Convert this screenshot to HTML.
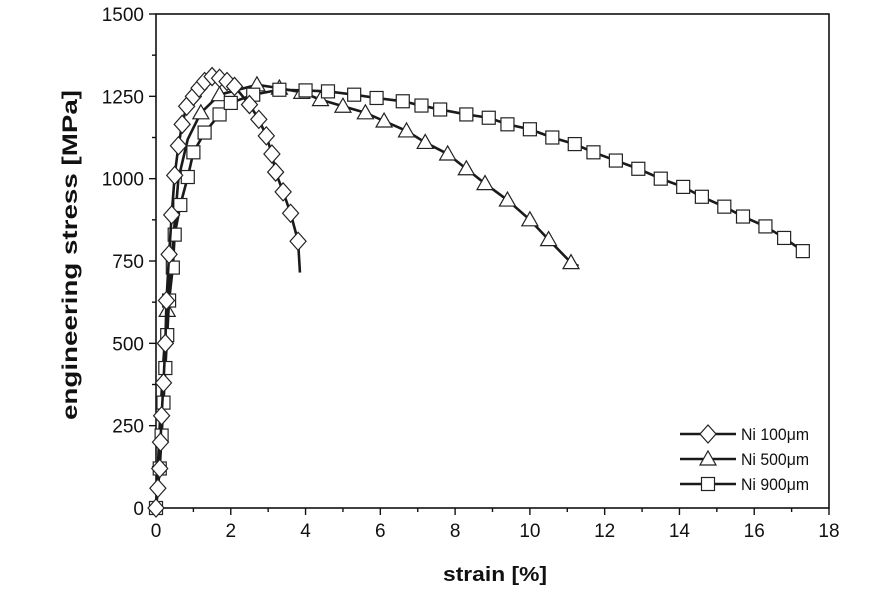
<!DOCTYPE html>
<html><head><meta charset="utf-8"><style>
body{margin:0;background:#fff;}
svg text{font-family:"Liberation Sans",Arial,sans-serif;fill:#111;}
</style></head><body>
<svg id="chart" width="895" height="590" viewBox="0 0 895 590" xmlns="http://www.w3.org/2000/svg">
<rect x="0" y="0" width="895" height="590" fill="#fff"/>
<g id="axes"></g><g id="series"></g><g id="legend"></g>
<text x="495" y="581" text-anchor="middle" font-size="20" font-weight="bold" textLength="104" lengthAdjust="spacingAndGlyphs">strain [%]</text>
<text transform="translate(77,255) rotate(-90)" text-anchor="middle" font-size="21" font-weight="bold" textLength="330" lengthAdjust="spacingAndGlyphs">engineering stress [MPa]</text>
</svg>
<script>
const xTicks=[0,2,4,6,8,10,12,14,16,18];
const yTicks=[0,250,500,750,1000,1250,1500];
const seriesNames=["Ni 100\u03bcm","Ni 500\u03bcm","Ni 900\u03bcm"];
const ni100X=[0,0.05,0.1,0.12,0.15,0.2,0.25,0.28,0.35,0.42,0.5,0.6,0.7,0.82,1.0,1.15,1.3,1.5,1.7,1.9,2.1,2.5,2.75,2.95,3.1,3.2,3.4,3.6,3.8,3.85];
const ni100Y=[0,60,120,200,280,380,500,630,770,890,1010,1100,1165,1220,1250,1275,1295,1310,1305,1295,1280,1225,1180,1130,1075,1020,960,895,810,715];
const ni100M=[0,1,2,3,4,5,6,7,8,9,10,11,12,13,14,15,16,17,18,19,20,21,22,23,24,25,26,27,28];
const ni500X=[0,0.1,0.2,0.3,0.45,0.6,0.85,1.2,1.7,2.7,3.3,3.9,4.4,5.0,5.6,6.1,6.7,7.2,7.8,8.3,8.8,9.4,10.0,10.5,11.1,11.3];
const ni500Y=[0,250,450,600,800,1000,1120,1200,1255,1285,1275,1262,1240,1220,1200,1175,1145,1110,1075,1030,985,935,875,815,745,735];
const ni500M=[3,7,8,9,10,11,12,13,14,15,16,17,18,19,20,21,22,23,24];
const ni900X=[0,0.1,0.15,0.2,0.25,0.3,0.35,0.45,0.5,0.65,0.85,1.0,1.3,1.7,2.0,2.6,3.3,4.0,4.6,5.3,5.9,6.6,7.1,7.6,8.3,8.9,9.4,10.0,10.6,11.2,11.7,12.3,12.9,13.5,14.1,14.6,15.2,15.7,16.3,16.8,17.3];
const ni900Y=[0,120,220,320,425,525,630,730,830,920,1005,1080,1140,1195,1230,1255,1270,1268,1265,1255,1245,1235,1222,1210,1195,1185,1165,1150,1125,1105,1080,1055,1030,1000,975,945,915,885,855,820,780];

const NS="http://www.w3.org/2000/svg";
const X0=156,X1=829,Y0=508,Y1=14;
const sx=v=>X0+(v-0)/(18-0)*(X1-X0);
const sy=v=>Y0-(v-0)/(1500-0)*(Y0-Y1);
function mk(tag,attrs,parent){const e=document.createElementNS(NS,tag);for(const k in attrs)e.setAttribute(k,attrs[k]);parent.appendChild(e);return e;}
const axes=document.getElementById('axes');
const frame=mk('rect',{x:X0,y:Y1,width:X1-X0,height:Y0-Y1,fill:'none',stroke:'#111','stroke-width':1.6},axes);


for(let i=0;i<=18;i++){const x=sx(i);const l=mk('line',{x1:x,y1:Y0,x2:x,y2:Y0+(i%2?4:7),stroke:'#111','stroke-width':1.4},axes);

}
xTicks.forEach(v=>{const t=mk('text',{x:sx(v),y:Y0+29,'text-anchor':'middle','font-size':19},axes);t.textContent=v;

});
for(let v=0;v<=1500;v+=125){const y=sy(v);const l=mk('line',{x1:X0,y1:y,x2:X0-((v%250)?4:7),y2:y,stroke:'#111','stroke-width':1.4},axes);

}
yTicks.forEach(v=>{const t=mk('text',{x:X0-12,y:sy(v)+7,'text-anchor':'end','font-size':19},axes);t.textContent=v;

});

function marker(type,x,y,g){let e;
 if(type==='d')e=mk('polygon',{points:`${x},${y-9} ${x+8},${y} ${x},${y+9} ${x-8},${y}`,fill:'#fff',stroke:'#222','stroke-width':1.2},g);
 else if(type==='t')e=mk('polygon',{points:`${x},${y-8} ${x+8},${y+6} ${x-8},${y+6}`,fill:'#fff',stroke:'#222','stroke-width':1.2},g);
 else e=mk('rect',{x:x-6.5,y:y-6.5,width:13,height:13,fill:'#fff',stroke:'#222','stroke-width':1.2},g);
 return e;}
const sg=document.getElementById('series');
function drawSeries(xs,ys,type,name,markIdx){
 const g=mk('g',{},sg);
 
 
 const p=mk('polyline',{points:xs.map((x,i)=>sx(x)+','+sy(ys[i])).join(' '),fill:'none',stroke:'#1a1a1a','stroke-width':2.6,'stroke-linejoin':'round'},g);
 
 
 (markIdx||xs.map((_,i)=>i)).forEach(i=>{const m=marker(type,sx(xs[i]),sy(ys[i]),g);
 
 });
}
drawSeries(ni500X,ni500Y,'t','series-ni-500',ni500M);
drawSeries(ni900X,ni900Y,'s','series-ni-900');
drawSeries(ni100X,ni100Y,'d','series-ni-100',ni100M);

const lg=document.getElementById('legend');
const types=['d','t','s'];
seriesNames.forEach((n,i)=>{const y=434+i*25;
 const g=mk('g',{},lg);
 
 
 mk('line',{x1:680,y1:y,x2:736,y2:y,stroke:'#1a1a1a','stroke-width':2.6},g);
 marker(types[i],708,y,g);
 const t=mk('text',{x:741,y:y+6,'font-size':17,textLength:68,lengthAdjust:'spacingAndGlyphs'},g);t.textContent=n;
});
</script>
</body></html>
